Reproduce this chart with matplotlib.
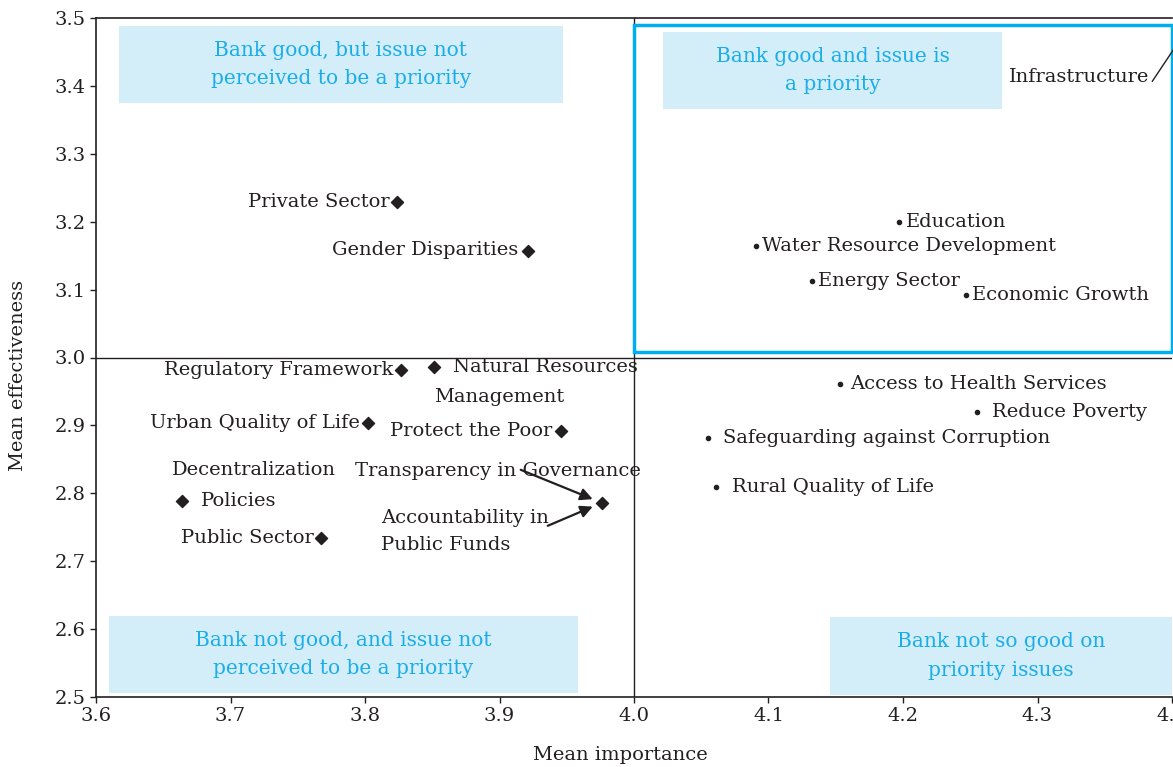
import matplotlib
matplotlib.use("Agg")
import matplotlib.pyplot as plt
from matplotlib.patches import Rectangle

plt.rcParams['font.family'] = ['DejaVu Serif']

INK = '#231f20'
CYAN = '#1aade8'
BOXFILL = '#d3edf9'

# Issues below the priority line (diamonds)
d_names = ["Private Sector", "Gender Disparities", "Regulatory Framework",
           "Natural Resources", "Urban Quality of Life", "Protect the Poor",
           "Policies", "Public Sector", "Transparency in Governance"]
d_imp = [3.824, 3.921, 3.827, 3.851, 3.802, 3.946, 3.664, 3.767, 3.976]
d_eff = [3.229, 3.157, 2.982, 2.986, 2.904, 2.892, 2.789, 2.734, 2.786]

# Issues above the priority line (dots)
p_names = ["Education", "Water Resource Development", "Energy Sector",
           "Economic Growth", "Access to Health Services", "Reduce Poverty",
           "Safeguarding against Corruption", "Rural Quality of Life"]
p_imp = [4.197, 4.091, 4.132, 4.247, 4.153, 4.255, 4.055, 4.061]
p_eff = [3.200, 3.164, 3.113, 3.092, 2.961, 2.920, 2.881, 2.809]

infra_imp, infra_eff = 4.41, 3.48

xticks = [3.6, 3.7, 3.8, 3.9, 4.0, 4.1, 4.2, 4.3, 4.4]
yticks = [2.5, 2.6, 2.7, 2.8, 2.9, 3.0, 3.1, 3.2, 3.3, 3.4, 3.5]

fig = plt.figure(figsize=(11.73, 7.67), dpi=100)
ax = fig.add_axes([96 / 1173, 1 - 697 / 767, 1076 / 1173, 679 / 767])
ax.set_xlim(3.6, 4.4)
ax.set_ylim(2.5, 3.5)
ax.set_xticks(xticks)
ax.set_yticks(yticks)
ax.set_xticklabels([f"{v:.1f}" for v in xticks])
ax.set_yticklabels([f"{v:.1f}" for v in yticks])
ax.tick_params(direction='out', length=4, width=1, labelsize=14, colors=INK)
ax.spines['right'].set_visible(False)
for s in ['top', 'left', 'bottom']:
    ax.spines[s].set_color(INK)
    ax.spines[s].set_linewidth(1.2)

ax.set_xlabel("Mean importance", fontsize=14, color=INK)
ax.xaxis.set_label_coords(0.487, -0.072)
ax.set_ylabel("Mean effectiveness", fontsize=14, color=INK)
ax.yaxis.set_label_coords(-0.064, 0.474)

# quadrant lines
ax.axvline(4.0, color=INK, lw=1)
ax.axhline(3.0, color=INK, lw=1)

# blue outline of the priority quadrant
ax.add_patch(Rectangle((4.0, 3.008), 0.4, 0.482, fill=False, ec='#00aeef',
                       lw=2.5, clip_on=False, zorder=3))

# shaded quadrant boxes
boxes = [
    ((3.617, 3.375), 0.330, 0.113, "Bank good, but issue not\nperceived to be a priority"),
    ((4.0216, 3.366), 0.252, 0.113, "Bank good and issue is\na priority"),
    ((3.610, 2.506), 0.348, 0.113, "Bank not good, and issue not\nperceived to be a priority"),
    ((4.146, 2.503), 0.254, 0.115, "Bank not so good on\npriority issues"),
]
for (x0, y0), w, h, txt in boxes:
    ax.add_patch(Rectangle((x0, y0), w, h, fc=BOXFILL, ec='none', zorder=1))
    ax.text(x0 + w / 2, y0 + h / 2, txt, ha='center', va='center', color=CYAN,
            fontsize=14.5, linespacing=1.65, zorder=2)

ax.scatter(d_imp, d_eff, marker='D', s=38, color=INK, zorder=4)
ax.scatter(p_imp, p_eff, marker='o', s=9, color=INK, zorder=4)

fs = 14
# label offsets in pixels (relative to the mark) and alignment
d_off = [(-8, 0, 'right'), (-9, 1, 'right'), (-8, 0, 'right'), (19, 0, 'left'),
         (-8, 0, 'right'), (-9, 0, 'right'), (19, 0, 'left'), (-7, 0, 'right'),
         (-247, 32, 'left')]
for name, x, y, (dx, dy, ha) in zip(d_names, d_imp, d_eff, d_off):
    ax.annotate(name, (x, y), xytext=(dx, dy), textcoords='offset pixels',
                ha=ha, va='center', fontsize=fs, color=INK)

# second lines of multi-line labels
ax.annotate("Management", (d_imp[3], d_eff[3]), xytext=(0, -30),
            textcoords='offset pixels', ha='left', va='center', fontsize=fs, color=INK)
ax.annotate("Decentralization", (d_imp[6], d_eff[6]), xytext=(-10, 31),
            textcoords='offset pixels', ha='left', va='center', fontsize=fs, color=INK)
ax.annotate("Accountability in\nPublic Funds", (d_imp[8], d_eff[8]), xytext=(-221, -29),
            textcoords='offset pixels', ha='left', va='center', fontsize=fs,
            color=INK, linespacing=1.65)

# arrows to the shared point
for tx, ty in [(-81, 33), (-54, -23)]:
    ax.annotate("", (d_imp[8], d_eff[8]), xytext=(tx, ty), textcoords='offset pixels',
                arrowprops=dict(arrowstyle='-|>', color=INK, lw=1.6, mutation_scale=18,
                                shrinkA=0, shrinkB=7))

p_off = [7, 6, 6, 6, 10, 15, 15, 16]
for name, x, y, dx in zip(p_names, p_imp, p_eff, p_off):
    ax.annotate(name, (x, y), xytext=(dx, 0), textcoords='offset pixels',
                ha='left', va='center', fontsize=fs, color=INK)

ax.annotate("Infrastructure", (infra_imp, infra_eff), xytext=(-36, -45),
            textcoords='offset pixels', ha='right', va='center', fontsize=fs,
            color=INK, annotation_clip=False,
            arrowprops=dict(arrowstyle='-', color=INK, lw=1, relpos=(1, 0),
                            shrinkA=0, shrinkB=0, clip_on=False))

fig.savefig("out.png", dpi=100)
